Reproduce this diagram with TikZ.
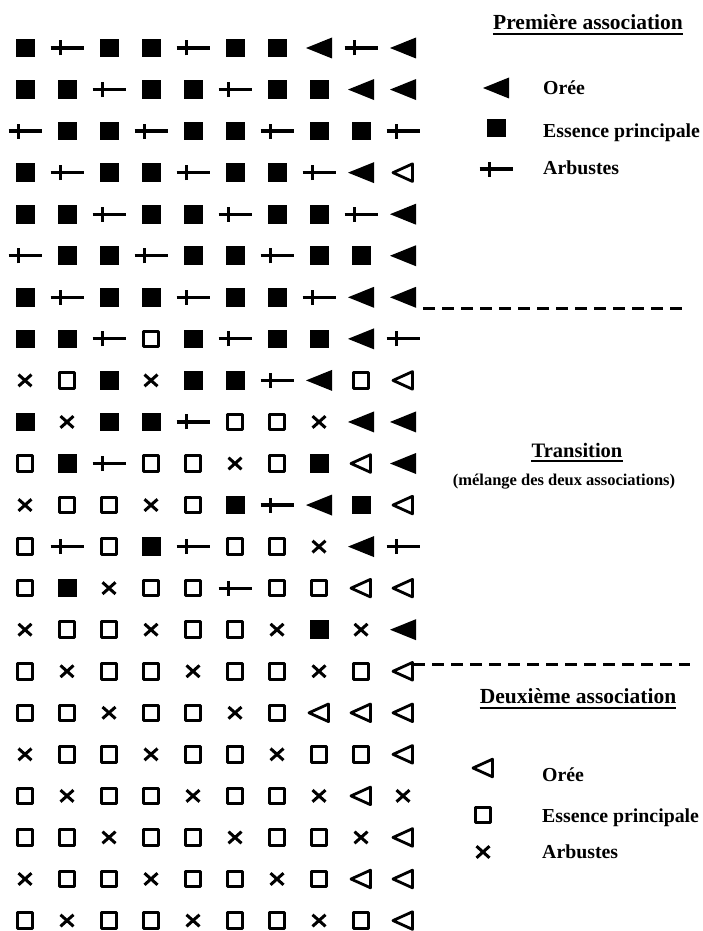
\documentclass[tikz,border=0pt]{standalone}
\usepackage{fontspec}
\setmainfont{Liberation Serif}
\usepackage{tikz}

\tikzset{
	sym/.style={line width=3pt, line join=round},
	symF/.pic={\fill (-9.5pt,-9.3pt) rectangle (9.5pt,9.3pt);},
	symE/.pic={\draw[sym] (-7.8pt,-7.8pt) rectangle (7.8pt,7.8pt);},
	symT/.pic={\fill[line join=round] (-13pt,0pt) -- (13pt,10.5pt) -- (13pt,-10.5pt) -- cycle;},
	symO/.pic={\draw[sym,line width=2.8pt] (-10pt,0pt) -- (9.5pt,8.8pt) -- (9.5pt,-8.8pt) -- cycle;},
	symP/.pic={\draw[sym,line width=3.2pt,line cap=butt] (-16.5pt,0pt) -- (16.5pt,0pt) (-6.5pt,-7.5pt) -- (-6.5pt,7.5pt);},
	symX/.pic={\draw[sym] (-6.5pt,-5.8pt) -- (6.5pt,5.8pt) (-6.5pt,5.8pt) -- (6.5pt,-5.8pt);},
	titre/.style={font=\bfseries\fontsize{21.5}{25}\selectfont, inner sep=0pt, anchor=base},
	legende/.style={font=\bfseries\fontsize{19.8}{23}\selectfont, inner sep=0pt, anchor=base west},
	limite/.style={line width=3pt, dash pattern=on 12pt off 7pt},
}

\begin{document}
\begin{tikzpicture}[x=1pt,y=-1pt]
				\def \dx {42}
				\def \dy {41.55}

				\fill[white] (0,0) rectangle (703,931);
				\useasboundingbox (0,0) rectangle (703,931);

				% la parcelle
				\foreach \r/\ligne in {1/{F,P,F,F,P,F,F,T,P,T},2/{F,F,P,F,F,P,F,F,T,T},
					3/{P,F,F,P,F,F,P,F,F,P},4/{F,P,F,F,P,F,F,P,T,O},5/{F,F,P,F,F,P,F,F,P,T},
					6/{P,F,F,P,F,F,P,F,F,T},7/{F,P,F,F,P,F,F,P,T,T},8/{F,F,P,E,F,P,F,F,T,P},
					9/{X,E,F,X,F,F,P,T,E,O},10/{F,X,F,F,P,E,E,X,T,T},11/{E,F,P,E,E,X,E,F,O,T},
					12/{X,E,E,X,E,F,P,T,F,O},13/{E,P,E,F,P,E,E,X,T,P},14/{E,F,X,E,E,P,E,E,O,O},
					15/{X,E,E,X,E,E,X,F,X,T},16/{E,X,E,E,X,E,E,X,E,O},17/{E,E,X,E,E,X,E,O,O,O},
					18/{X,E,E,X,E,E,X,E,E,O},19/{E,X,E,E,X,E,E,X,O,X},20/{E,E,X,E,E,X,E,E,X,O},
					21/{X,E,E,X,E,E,X,E,O,O},22/{E,X,E,E,X,E,E,X,E,O}} {
					\foreach \s [count=\c] in \ligne {
						\pic (s\r-\c) at ({25+\dx*(\c-1)},{48+\dy*(\r-1)}) {sym\s};
					}
				}

				% limites entre les zones
				\coordinate (l1a) at (423,308);
				\coordinate (l1b) at (682,308);
				\coordinate (l2a) at (413,664);
				\coordinate (l2b) at (690,664);
				\draw[limite] (l1a) -- (l1b);
				\draw[limite] (l2a) -- (l2b);

				% premiere association
				\node[titre] (t1) at (588,30) {Première association};
				\draw[line width=1.6pt] ([yshift=-4pt]t1.base west) -- ([yshift=-4pt]t1.base east);
				\foreach \y/\b/\s/\z in {88/95/T/Orée,128/137/F/Essence principale,169/174/P/Arbustes} {
					\pic at (496,\y) {sym\s};
					\node[legende] (a\s) at (543,\b) {\z};
				}

				% transition
				\node[titre,font=\bfseries\fontsize{20.5}{24}\selectfont] (t2) at (577,457) {Transition};
				\draw[line width=1.6pt] ([yshift=-4pt]t2.base west) -- ([yshift=-4pt]t2.base east);
				\node[titre,font=\bfseries\fontsize{16.5}{19}\selectfont] (t3) at (564,485) {(mélange des deux associations)};

				% deuxieme association
				\node[titre] (t4) at (578,703) {Deuxième association};
				\draw[line width=1.6pt] ([yshift=-5pt]t4.base west) -- ([yshift=-5pt]t4.base east);
				\foreach \y/\b/\s/\z in {768/781/O/Orée,815/822/E/Essence principale,852/858/X/Arbustes} {
					\pic at (483,\y) {sym\s};
					\node[legende] (b\s) at (542,\b) {\z};
				}
			\end{tikzpicture}
\end{document}
